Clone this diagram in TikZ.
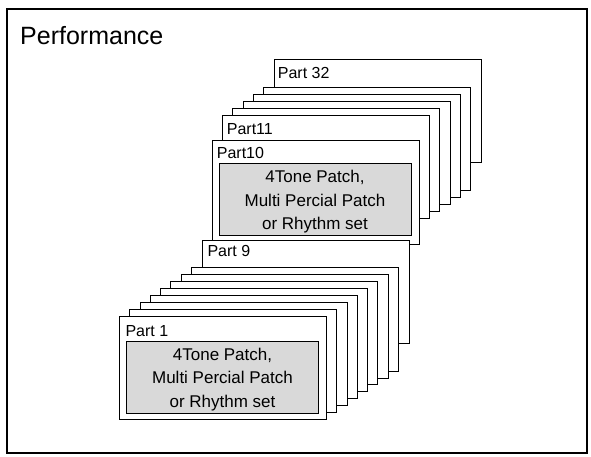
\documentclass[tikz,border=0pt]{standalone}
\usepackage{fontspec}
\setmainfont{Liberation Sans}
\definecolor{patchgray}{RGB}{217,217,217}
\begin{document}
\begin{tikzpicture}[x=1pt,y=-1pt,
  framebox/.style={draw=black, line width=1.5pt, inner sep=0pt, outer sep=0pt, anchor=north west, minimum width=580pt, minimum height=444pt},
  partbox/.style={draw=black, line width=0.8pt, fill=white, minimum width=207pt, minimum height=103.3pt, inner sep=0pt, outer sep=0pt, anchor=north west},
  patchbox/.style={draw=black, line width=0.8pt, fill=patchgray, inner sep=0pt, outer sep=0pt, anchor=north west},
  partlabel/.style={anchor=base west, inner sep=0pt, font=\fontsize{16}{19}\selectfont},
  patchtext/.style={align=center, inner sep=0pt, font=\fontsize{17}{23.5}\selectfont},
  titletext/.style={anchor=base west, inner sep=0pt, font=\fontsize{25}{30}\selectfont}]
\useasboundingbox (0,0) rectangle (591,456);
\node[framebox] (frame) at (7,9) {};
\node[titletext] (title) at (20,44.3) {Performance};

% upper group
\node[partbox] (p32) at (274,59.3) {};
\node[partlabel] (l32) at (277.7,78.3) {Part 32};
\foreach \k in {4,3,2,1}{
  \node[partbox] (u\k) at (222.5+10.3*\k,115-6.9*\k) {};
}
\node[partbox] (p11) at (222.5,115) {};
\node[partlabel] (l11) at (226.7,134.3) {Part11};
\node[partbox] (p10) at (212.3,140.8) {};
\node[partlabel] (l10) at (216.7,158.3) {Part10};
\node[patchbox, minimum width=192pt, minimum height=72pt] (g10) at (219,163.7) {};
\node[patchtext] (t10) at (315,201.7) {4Tone Patch,\\Multi Percial Patch\\or Rhythm set};

% lower group
\node[partbox] (p9) at (202.3,240) {};
\node[partlabel] (l9) at (207.3,256.7) {Part 9};
\foreach \k in {7,6,5,4,3,2,1}{
  \node[partbox] (b\k) at (119.3+10.3*\k,316-6.9*\k) {};
}
\node[partbox] (p1) at (119.3,316) {};
\node[partlabel] (l1) at (125.3,336.7) {Part 1};
\node[patchbox, minimum width=192.7pt, minimum height=71.6pt] (g1) at (126,341.7) {};
\node[patchtext] (t1) at (222.5,379.3) {4Tone Patch,\\Multi Percial Patch\\or Rhythm set};
\end{tikzpicture}
\end{document}
